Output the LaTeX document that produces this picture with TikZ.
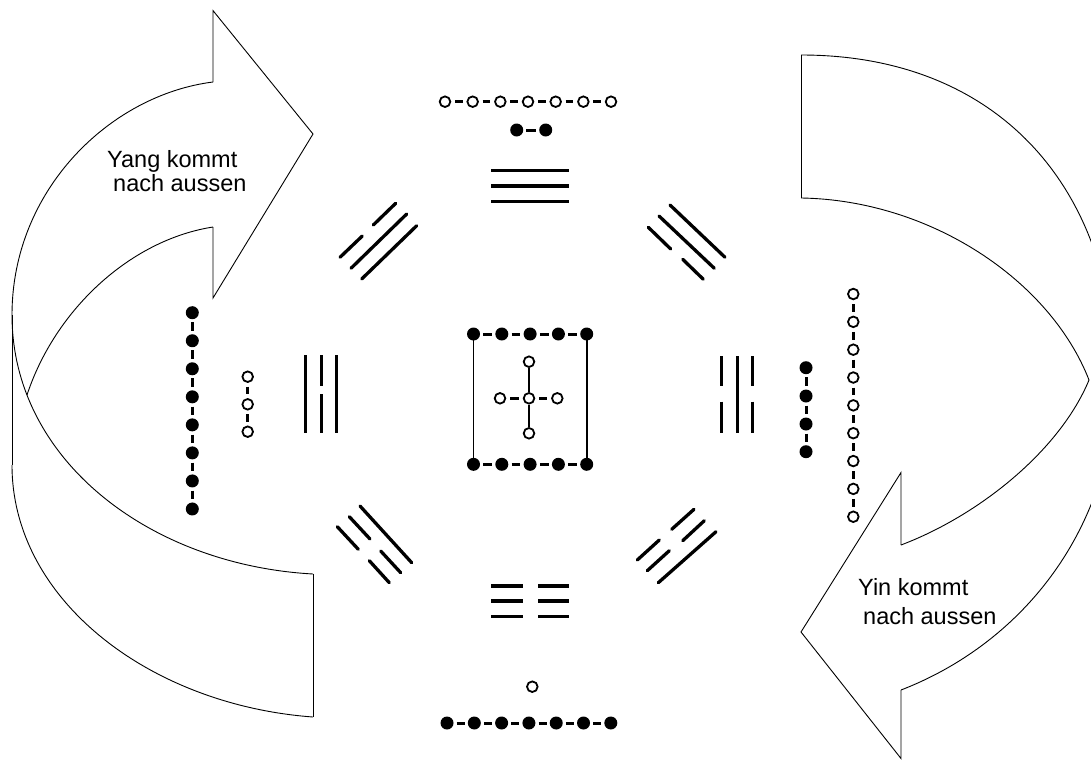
\documentclass[tikz,border=0pt]{standalone}
\usepackage{fontspec}
\setmainfont{Liberation Sans}
\begin{document}
\begin{tikzpicture}[x=1pt,y=-1pt,
  band/.style={line width=0.9pt, line join=miter},
  tri/.style={line width=3.2pt},
  trid/.style={line width=3.3pt, line cap=round},
  odot/.style={circle, draw, line width=1.8pt, minimum size=10.6pt, inner sep=0pt},
  bdot/.style={circle, fill, minimum size=13pt, inner sep=0pt},
  olink/.style={line width=3pt, shorten <=3.8pt, shorten >=3.8pt},
  blink/.style={line width=3pt, shorten <=3pt, shorten >=3pt},
  boxline/.style={line width=1.6pt},
  stem/.style={line width=1.3pt},
  lbl/.style={font=\fontsize{23.5}{26}\selectfont, inner sep=0pt, anchor=base west}]
\useasboundingbox (0,0) rectangle (1091,760);

% ---------- left band (Yang) ----------
\draw[band] (213,82) -- (213,10.6) -- (313,134) -- (213,298) -- (213,227);
\draw[band] (213,82) .. controls (110,95) and (12,190) .. (12,315);
\draw[band] (12,315) -- (12,465);
\draw[band] (12,315) .. controls (12,460) and (150,565) .. (313,574);
\draw[band] (12,465) .. controls (12,600) and (150,705) .. (313,717);
\draw[band] (313,574) -- (313,717);
\draw[band] (213,227) .. controls (130,240) and (55,310) .. (27,395);
\node[lbl] (yang1) at (107,167) {Yang kommt};
\node[lbl] (yang2) at (113,191.5) {nach aussen};

% ---------- right band (Yin) ----------
\draw[band] (801,55) -- (801,198);
\draw[band] (801,55) .. controls (1000,55) and (1115,190) .. (1115,380)
                     .. controls (1115,520) and (1030,640) .. (901,690);
\draw[band] (801,198) .. controls (930,200) and (1050,280) .. (1089,380);
\draw[band] (1089,380) .. controls (1060,450) and (980,515) .. (901,545);
\draw[band] (901,545) -- (901,472.5) -- (801,632) -- (901,758.5) -- (901,690);
\node[lbl] (yin1) at (858,595.6) {Yin kommt};
\node[lbl] (yin2) at (863,624) {nach aussen};

% ---------- trigrams ----------
% top (three solid)
\draw[tri] (491,170.7) -- (569,170.7);
\draw[tri] (491,186) -- (569,186);
\draw[tri] (491,201.7) -- (569,201.7);
% bottom (three broken)
\foreach \yy in {586,601,616.7} {
  \draw[tri] (491,\yy) -- (522.7,\yy);
  \draw[tri] (538.3,\yy) -- (569,\yy);
}
% left
\draw[tri] (305.7,355) -- (305.7,432.7);
\draw[tri] (321.7,355) -- (321.7,385.7);
\draw[tri] (321.7,394.3) -- (321.7,432.7);
\draw[tri] (336.7,355) -- (336.7,432.7);
% right
\draw[tri] (721.7,356) -- (721.7,386);
\draw[tri] (721.7,401.7) -- (721.7,432.7);
\draw[tri] (737.3,356) -- (737.3,432.7);
\draw[tri] (752.7,356) -- (752.7,386);
\draw[tri] (752.7,401.7) -- (752.7,432.7);
% NW
\draw[trid] (373.3,225) -- (395.7,203.3);
\draw[trid] (340,257.3) -- (362.3,236);
\draw[trid] (351,268.3) -- (406.7,214);
\draw[trid] (361.7,279) -- (416.7,225.7);
% NE
\draw[trid] (670,205) -- (725,257.3);
\draw[trid] (659,216) -- (714.3,268.3);
\draw[trid] (648.3,227.3) -- (670.7,249);
\draw[trid] (682.7,259.3) -- (703.3,279.3);
% SW
\draw[trid] (337.3,526.7) -- (358.3,549.3);
\draw[trid] (369.3,560.7) -- (389.3,582.7);
\draw[trid] (349.3,516.7) -- (370,539);
\draw[trid] (380.7,551) -- (400.7,572.7);
\draw[trid] (360,506) -- (411.7,562.7);
% SE
\draw[trid] (671.7,529.3) -- (694,509.3);
\draw[trid] (637.3,560) -- (659.3,540);
\draw[trid] (682.7,540.7) -- (704.3,520.7);
\draw[trid] (647.3,570.7) -- (669.3,550.7);
\draw[trid] (658.3,582.7) -- (716,531.7);

% ---------- chains ----------
% top: 7 open
\foreach \i in {1,...,7} \node[odot] (tc\i) at ({445+27.67*(\i-1)},101.7) {};
\foreach \i [count=\j from 2] in {1,...,6} \draw[olink] (tc\i) -- (tc\j);
% top: 2 black
\node[bdot] (tb1) at (516.7,130) {};
\node[bdot] (tb2) at (545.7,130) {};
\draw[blink] (tb1) -- (tb2);
% bottom: single open, 7 black
\node[odot] (bo1) at (532.3,686.7) {};
\foreach \i in {1,...,7} \node[bdot] (bb\i) at ({447+27.3*(\i-1)},723) {};
\foreach \i [count=\j from 2] in {1,...,6} \draw[blink] (bb\i) -- (bb\j);
% left: 8 black, 3 open
\foreach \i in {1,...,8} \node[bdot] (lb\i) at (192.3,{312.7+28.04*(\i-1)}) {};
\foreach \i [count=\j from 2] in {1,...,7} \draw[blink] (lb\i) -- (lb\j);
\node[odot] (lo1) at (247.7,376.7) {};
\node[odot] (lo2) at (247.7,404.3) {};
\node[odot] (lo3) at (247.7,431.7) {};
\draw[olink] (lo1) -- (lo2);
\draw[olink] (lo2) -- (lo3);
% right: 4 black, 9 open
\node[bdot] (rb1) at (806,367.7) {};
\node[bdot] (rb2) at (806,396) {};
\node[bdot] (rb3) at (806,424) {};
\node[bdot] (rb4) at (806,451.7) {};
\draw[blink] (rb1) -- (rb2);
\draw[blink] (rb2) -- (rb3);
\draw[blink] (rb3) -- (rb4);
\foreach \i in {1,...,9} \node[odot] (ro\i) at (853.3,{294+27.84*(\i-1)}) {};
\foreach \i [count=\j from 2] in {1,...,8} \draw[olink] (ro\i) -- (ro\j);

% ---------- centre ----------
\draw[boxline] (473.5,334) -- (473.5,464.3);
\draw[boxline] (586.7,334) -- (586.7,464.3);
\foreach \i in {1,...,5} {
  \node[bdot] (cu\i) at ({473.5+28.3*(\i-1)},334) {};
  \node[bdot] (cd\i) at ({473.5+28.3*(\i-1)},464.3) {};
}
\foreach \i [count=\j from 2] in {1,...,4} {
  \draw[blink] (cu\i) -- (cu\j);
  \draw[blink] (cd\i) -- (cd\j);
}
\node[odot] (cc) at (529,398.3) {};
\node[odot] (ct) at (529,361.7) {};
\node[odot] (cb) at (529,433.3) {};
\node[odot] (cl) at (500,398.3) {};
\node[odot] (cr) at (557.3,398.3) {};
\draw[stem] (ct) -- (cc);
\draw[stem] (cc) -- (cb);
\draw[olink] (cl) -- (cc);
\draw[olink] (cc) -- (cr);
\end{tikzpicture}
\end{document}
